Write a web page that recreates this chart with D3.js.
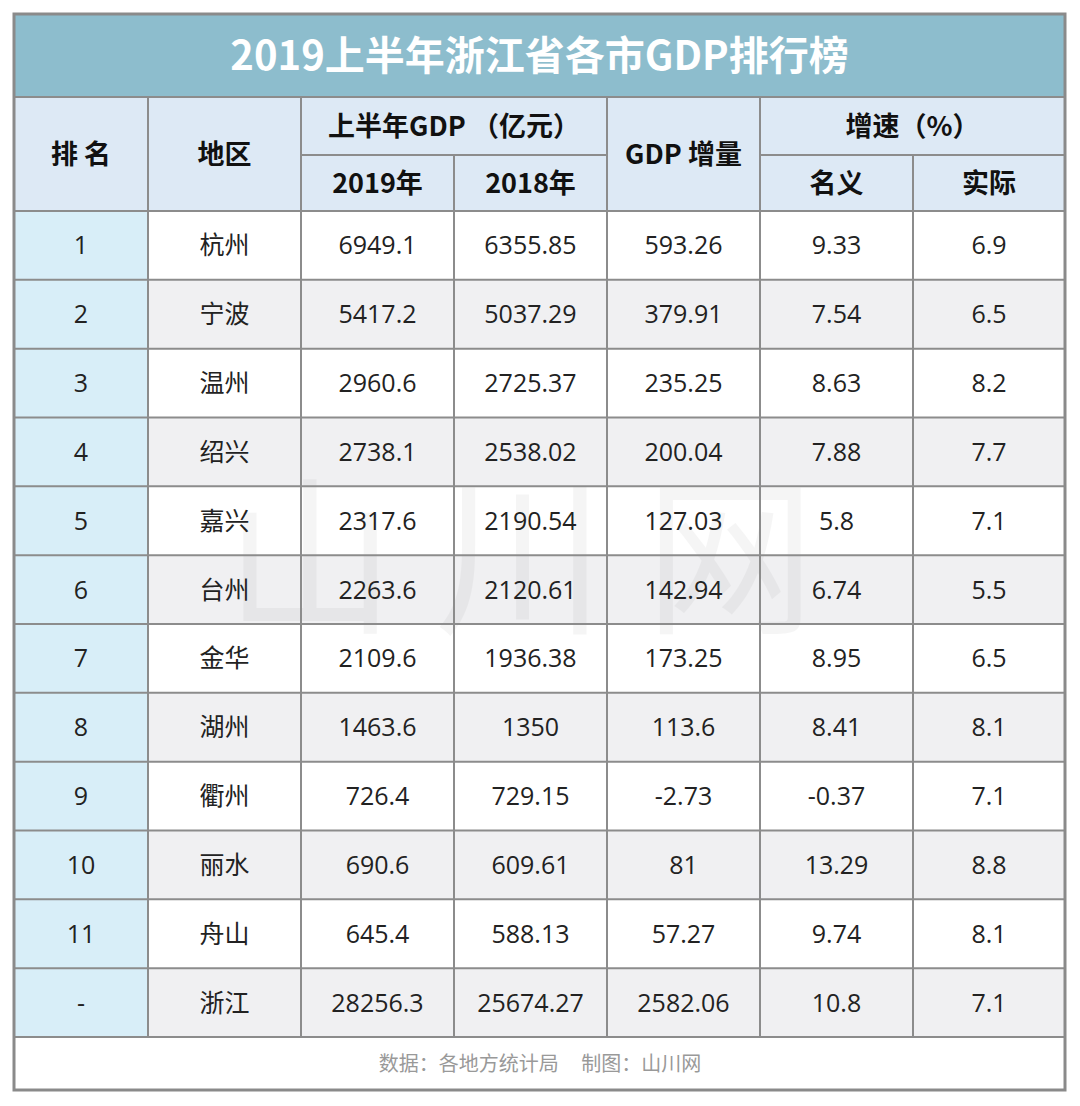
<!DOCTYPE html>
<meta charset="utf-8">
<style>
body { margin: 0; background: #fff; }
svg { font-family: "Noto Sans CJK SC", "Noto Sans", sans-serif; }
</style>
<body>
<svg id="tbl" width="1080" height="1106"></svg>
<script src="https://d3js.org/d3.v7.min.js"></script>
<script>
// table data
var title = "2019上半年浙江省各市GDP排行榜";
var ranks = ["1","2","3","4","5","6","7","8","9","10","11","-"];
var cities = ["杭州","宁波","温州","绍兴","嘉兴","台州","金华","湖州","衢州","丽水","舟山","浙江"];
var gdp2019 = ["6949.1","5417.2","2960.6","2738.1","2317.6","2263.6","2109.6","1463.6","726.4","690.6","645.4","28256.3"];
var gdp2018 = ["6355.85","5037.29","2725.37","2538.02","2190.54","2120.61","1936.38","1350","729.15","609.61","588.13","25674.27"];
var gdpInc = ["593.26","379.91","235.25","200.04","127.03","142.94","173.25","113.6","-2.73","81","57.27","2582.06"];
var nominal = ["9.33","7.54","8.63","7.88","5.8","6.74","8.95","8.41","-0.37","13.29","9.74","10.8"];
var real = ["6.9","6.5","8.2","7.7","7.1","5.5","6.5","8.1","7.1","8.8","8.1","7.1"];
var footer = "数据：各地方统计局     制图：山川网";

var svg = d3.select("#tbl");
var L = 14, R = 1065, T = 14, B = 1090;
var titleB = 97, headMid = 155, headB = 211, bodyB = 1037;
var colEdges = [14,148,301,454,607,760,913,1065];
var cols = [ranks, cities, gdp2019, gdp2018, gdpInc, nominal, real];
var y = d3.scaleBand().domain(d3.range(ranks.length)).range([headB, bodyB]);
var line = "#8c8c8c";

// title
svg.append("rect").attr("x", L).attr("y", T).attr("width", R - L).attr("height", titleB - T).attr("fill", "#8dbdcd");
svg.append("text").attr("x", (L + R) / 2).attr("y", (T + titleB) / 2).attr("dy", "0.36em")
  .attr("text-anchor", "middle").attr("fill", "#fff").attr("font-size", 40).attr("font-weight", "bold").text(title);

// header bg
svg.append("rect").attr("x", L).attr("y", titleB).attr("width", R - L).attr("height", headB - titleB).attr("fill", "#dde9f5");

// body rows
ranks.forEach(function(r, i) {
  svg.append("rect").attr("x", L).attr("y", y(i)).attr("width", R - L).attr("height", y.bandwidth())
    .attr("fill", i % 2 ? "#f0f0f2" : "#ffffff");
  svg.append("rect").attr("x", L).attr("y", y(i)).attr("width", colEdges[1] - L).attr("height", y.bandwidth())
    .attr("fill", "#d8eef8");
});

// watermark
svg.append("text").attr("x", 540).attr("y", 560).attr("dy", "0.36em").attr("text-anchor", "middle")
  .attr("font-size", 170).attr("fill", "#000").attr("opacity", 0.035).attr("letter-spacing", 40).text("山川网");

// header texts
function htxt(x, yy, s) {
  svg.append("text").attr("x", x).attr("y", yy).attr("dy", "0.36em").attr("text-anchor", "middle")
    .attr("font-size", 27).attr("font-weight", "bold").attr("fill", "#111").text(s);
}
function mid(a, b) { return (colEdges[a] + colEdges[b]) / 2; }
htxt(mid(0,1), (titleB + headB) / 2, "排 名");
htxt(mid(1,2), (titleB + headB) / 2, "地区");
htxt(mid(2,4), (titleB + headMid) / 2, "上半年GDP （亿元）");
htxt(mid(2,3), (headMid + headB) / 2, "2019年");
htxt(mid(3,4), (headMid + headB) / 2, "2018年");
htxt(mid(4,5), (titleB + headB) / 2, "GDP 增量");
htxt(mid(5,7), (titleB + headMid) / 2, "增速（%）");
htxt(mid(5,6), (headMid + headB) / 2, "名义");
htxt(mid(6,7), (headMid + headB) / 2, "实际");

// body texts
cols.forEach(function(col, c) {
  svg.selectAll(null).data(col).enter().append("text")
    .attr("x", mid(c, c + 1)).attr("y", function(d, i) { return y(i) + y.bandwidth() / 2; })
    .attr("dy", "0.36em").attr("text-anchor", "middle").attr("font-size", 25).attr("fill", "#222")
    .attr("font-family", c === 1 ? "'Noto Sans CJK SC'" : "'Open Sans', 'Noto Sans', sans-serif")
    .text(function(d) { return d; });
});

// grid lines
function seg(x1, y1, x2, y2) {
  svg.append("line").attr("x1", x1).attr("y1", y1).attr("x2", x2).attr("y2", y2).attr("stroke", line).attr("stroke-width", 2);
}
seg(L, titleB, R, titleB);
seg(colEdges[2], headMid, colEdges[4], headMid);
seg(colEdges[5], headMid, colEdges[7], headMid);
d3.range(ranks.length + 1).forEach(function(i) { var yy = headB + i * y.step(); seg(L, yy, R, yy); });
colEdges.slice(1, -1).forEach(function(x, k) {
  var top = (k + 1 === 3 || k + 1 === 6) ? headMid : titleB;
  seg(x, top, x, bodyB);
});

// footer
svg.append("text").attr("x", 540).attr("y", (bodyB + B) / 2).attr("dy", "0.36em").attr("text-anchor", "middle")
  .attr("font-size", 20).attr("fill", "#999").attr("xml:space", "preserve").style("white-space", "pre").text(footer);

// outer border
svg.append("rect").attr("x", L).attr("y", T).attr("width", R - L).attr("height", B - T)
  .attr("fill", "none").attr("stroke", "#8a8a8a").attr("stroke-width", 3);
</script>
</body>
